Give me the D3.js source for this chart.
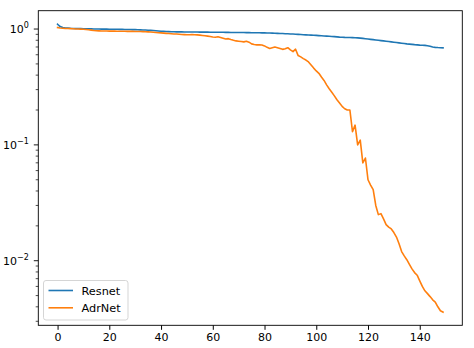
<!DOCTYPE html>
<html>
<head>
<meta charset="utf-8">
<script src="https://cdn.jsdelivr.net/npm/d3@7"></script>
<style>
body{margin:0;background:#fff;}
text{font-family:"DejaVu Sans",sans-serif;}
</style>
</head>
<body>
<svg width="474" height="348"></svg>
<script>
// loss per epoch
var resnet = [
1.10,1.05,1.03,1.02,1.02,1.015,1.012,1.01,1.01,1.008,
1.006,1.005,1.004,1.003,1.002,1.0,1.0,0.999,0.998,0.998,
0.997,0.996,0.995,0.995,0.994,0.993,0.992,0.991,0.99,0.989,
0.988,0.986,0.984,0.982,0.98,0.977,0.974,0.97,0.966,0.962,
0.958,0.955,0.952,0.95,0.948,0.947,0.946,0.945,0.945,0.944,
0.944,0.943,0.943,0.942,0.942,0.941,0.941,0.94,0.94,0.939,
0.939,0.938,0.938,0.937,0.937,0.936,0.936,0.935,0.935,0.934,
0.934,0.933,0.933,0.932,0.931,0.93,0.93,0.929,0.928,0.927,
0.926,0.925,0.924,0.922,0.92,0.918,0.916,0.914,0.912,0.91,
0.907,0.905,0.902,0.899,0.896,0.893,0.89,0.888,0.886,0.884,
0.881,0.878,0.875,0.872,0.869,0.866,0.863,0.86,0.856,0.852,
0.849,0.847,0.846,0.845,0.844,0.842,0.839,0.835,0.83,0.825,
0.82,0.815,0.81,0.805,0.8,0.795,0.79,0.785,0.78,0.775,
0.77,0.765,0.76,0.755,0.75,0.745,0.741,0.737,0.733,0.73,
0.727,0.725,0.723,0.718,0.71,0.7,0.695,0.692,0.69,0.688
];
var adrnet = [
1.03,1.02,1.015,1.01,1.01,1.008,1.005,1.0,1.0,0.998,
0.995,0.99,0.985,0.978,0.972,0.968,0.965,0.963,0.962,0.961,
0.96,0.96,0.959,0.958,0.958,0.957,0.956,0.955,0.955,0.954,
0.953,0.952,0.951,0.95,0.948,0.945,0.942,0.938,0.934,0.93,
0.926,0.922,0.918,0.914,0.91,0.907,0.905,0.902,0.898,0.895,
0.893,0.893,0.895,0.893,0.89,0.886,0.88,0.874,0.868,0.862,
0.855,0.85,0.857,0.845,0.832,0.82,0.826,0.812,0.8,0.79,
0.785,0.78,0.775,0.785,0.77,0.745,0.735,0.73,0.732,0.728,
0.715,0.695,0.68,0.69,0.70,0.69,0.68,0.668,0.675,0.69,
0.66,0.638,0.67,0.59,0.575,0.555,0.54,0.52,0.49,0.46,
0.435,0.415,0.385,0.36,0.33,0.305,0.285,0.265,0.245,0.23,
0.215,0.205,0.2,0.2,0.13,0.148,0.1,0.11,0.07,0.077,
0.05,0.045,0.041,0.03,0.025,0.0255,0.023,0.0205,0.0195,0.0188,
0.0175,0.016,0.014,0.012,0.011,0.0102,0.0093,0.0085,0.0079,0.0075,
0.0067,0.006,0.0055,0.0052,0.0049,0.0046,0.0044,0.004,0.0037,0.0036
];
var seriesNames = ["Resnet","AdrNet"];
var seriesColors = ["#1f77b4","#ff7f0e"];
var xTicks = [0,20,40,60,80,100,120,140];
var yTicks = [1,0.1,0.01];
var yTickExp = ["0","\u22121","\u22122"];

var svg = d3.select("svg");
var margin = {top: 10.7, right: 11.7, bottom: 22.7, left: 38.3};
var W = 474, H = 348;

var x = d3.scaleLinear().domain([-7.45, 156.45]).range([margin.left, W - margin.right]);
var y = d3.scaleLog().domain([0.00277, 1.44]).range([H - margin.bottom, margin.top]);

var plot = svg.append("g");
var line = d3.line()
    .x(function(d, i) { return x(i); })
    .y(function(d) { return y(d); });

[resnet, adrnet].forEach(function(s, k) {
  plot.append("path")
    .datum(s)
    .attr("d", line)
    .attr("fill", "none")
    .attr("stroke", seriesColors[k])
    .attr("stroke-width", 1.6)
    .attr("stroke-linejoin", "round")
    .attr("stroke-linecap", "square");
});

// x axis
var xAxis = d3.axisBottom(x).tickValues(xTicks).tickSize(4.5).tickPadding(3.5);
var gx = svg.append("g")
  .attr("transform", "translate(0," + (H - margin.bottom) + ")")
  .call(xAxis);
gx.select(".domain").remove();
gx.selectAll("text").attr("font-size", 11).attr("fill", "#000").attr("font-family", "DejaVu Sans");

// y axis: minor ticks, major ticks, 10^n labels
var gy = svg.append("g").attr("transform", "translate(" + margin.left + ",0)");
var minor = [];
[0.001, 0.01, 0.1].forEach(function(b) {
  for (var m = 2; m <= 9; m++) {
    var v = b * m;
    if (v > y.domain()[0] && v < y.domain()[1]) minor.push(v);
  }
});
gy.selectAll(".minor").data(minor).enter().append("line")
  .attr("x1", -2.6).attr("x2", 0)
  .attr("y1", function(d) { return y(d); }).attr("y2", function(d) { return y(d); })
  .attr("stroke", "#000").attr("stroke-width", 0.7);
gy.selectAll(".major").data(yTicks).enter().append("line")
  .attr("x1", -4.5).attr("x2", 0)
  .attr("y1", function(d) { return y(d); }).attr("y2", function(d) { return y(d); })
  .attr("stroke", "#000").attr("stroke-width", 0.9);
var lab = gy.selectAll(".lab").data(yTicks).enter().append("text")
  .attr("x", -9.5)
  .attr("y", function(d) { return y(d) + 4; })
  .attr("text-anchor", "end")
  .attr("font-size", 11)
  .attr("fill", "#000");
lab.append("tspan").text("10");
lab.append("tspan").attr("dy", -5).attr("font-size", 8).text(function(d, i) { return yTickExp[i]; });

// frame
svg.append("rect")
  .attr("x", margin.left).attr("y", margin.top)
  .attr("width", W - margin.right - margin.left)
  .attr("height", H - margin.bottom - margin.top)
  .attr("fill", "none").attr("stroke", "#000").attr("stroke-width", 0.9);

// legend
var lg = svg.append("g").attr("transform", "translate(43.5,280.5)");
lg.append("rect")
  .attr("width", 84.5).attr("height", 39.5).attr("rx", 2.5)
  .attr("fill", "#fff").attr("fill-opacity", 0.8)
  .attr("stroke", "#d0d0d0").attr("stroke-width", 0.9);
seriesNames.forEach(function(n, k) {
  var yy = 10 + k * 17.3;
  lg.append("line").attr("x1", 5).attr("x2", 29.5).attr("y1", yy).attr("y2", yy)
    .attr("stroke", seriesColors[k]).attr("stroke-width", 1.6);
  lg.append("text").attr("x", 38).attr("y", yy + 4).attr("font-size", 11.3).attr("fill", "#000").text(n);
});
</script>
</body>
</html>
